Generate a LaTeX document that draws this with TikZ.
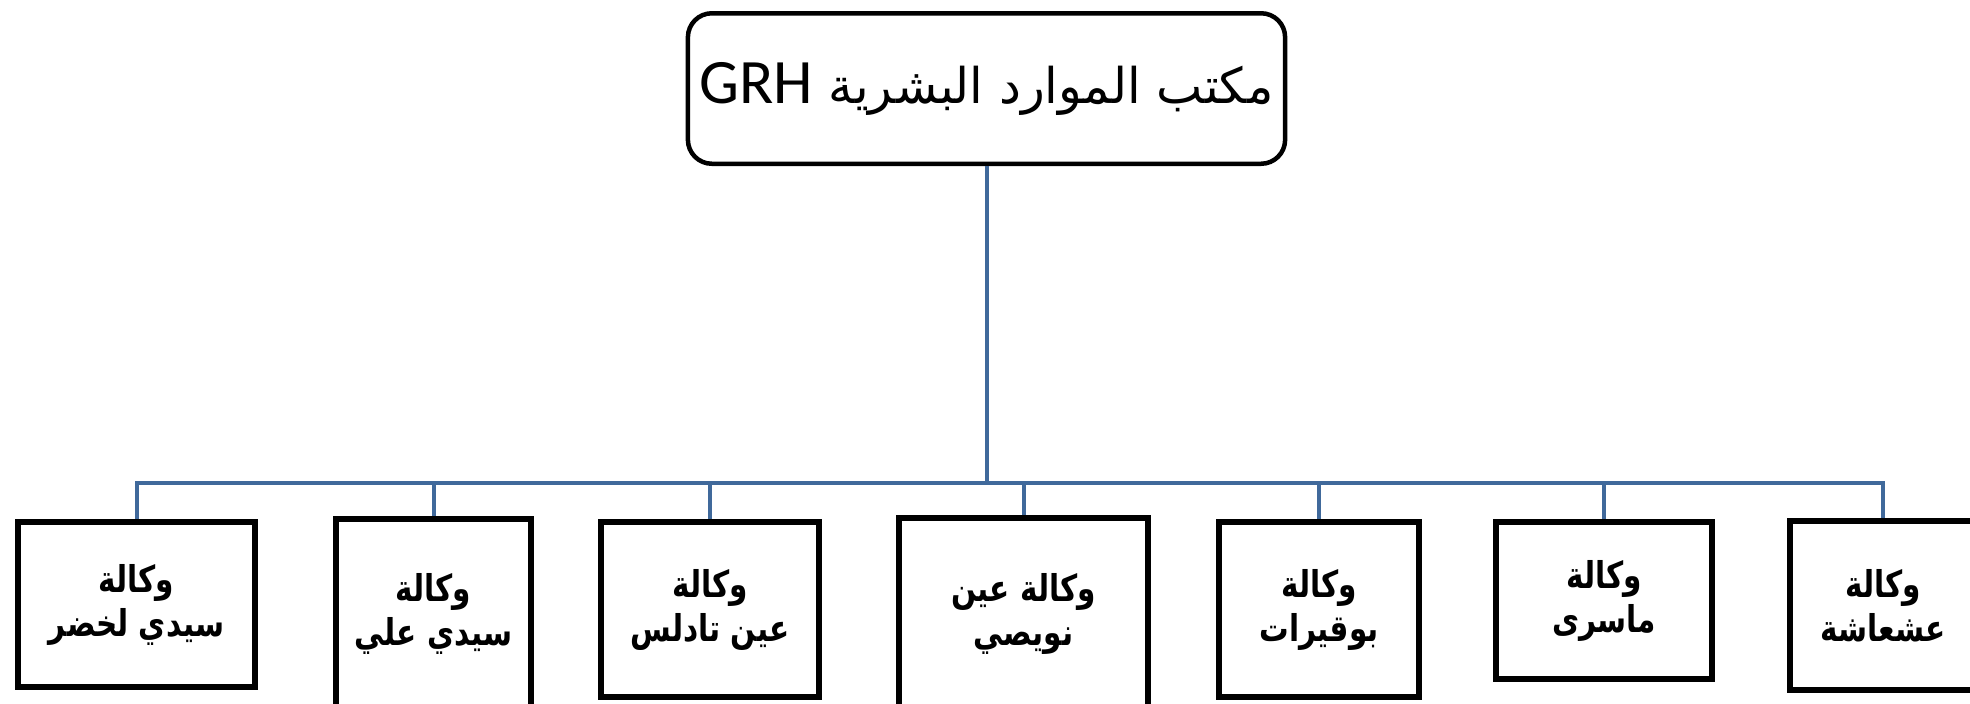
\documentclass[tikz,border=0pt]{standalone}
\usepackage{fontspec}
\usetikzlibrary{positioning}
\newfontfamily\arabicfont[Script=Arabic]{DejaVu Sans}
\newfontfamily\agencyfont[Script=Arabic, FakeStretch=0.8]{DejaVu Sans}
\newfontfamily\latinfont{Carlito}
\TeXXeTstate=1
\definecolor{linkblue}{RGB}{64,105,155}

\begin{document}
\begin{tikzpicture}[
  node distance=0.7cm,
  grhbox/.style={rectangle, draw, rounded corners=0.24cm, line width=0.045cm, align=center, font=\arabicfont\fontsize{14}{18}\selectfont},
  agency/.style={rectangle, draw, line width=0.06cm, inner xsep=1pt, align=center, font=\agencyfont\bfseries\fontsize{10.5}{12.5}\selectfont},
  link/.style={draw=linkblue, line width=0.04cm}
]
  \useasboundingbox (0,0) rectangle (19.70,-7.03);
  % Top: HR office
  \node[grhbox, minimum width=5.885cm, minimum height=1.505cm] (grh) at (9.865,-0.885)
    {\beginR مكتب الموارد البشرية \beginL{\latinfont\fontsize{18}{18}\selectfont GRH}\endL\endR};
  % Agencies
  \node[agency, below=3.53cm of grh, xshift=-8.5cm, minimum width=2.37cm, minimum height=1.65cm] (c1)
    {\beginR وكالة\endR\\\beginR سيدي لخضر\endR};
  \node[agency, right=0.75cm of c1.north east, anchor=north west, yshift=0.03cm, minimum width=1.95cm, minimum height=1.9cm] (c2)
    {\beginR وكالة\endR\\\beginR سيدي علي\endR};
  \node[agency, right=0.64cm of c2.north east, anchor=north west, yshift=-0.03cm, minimum width=2.18cm, minimum height=1.75cm] (c3)
    {\beginR وكالة\endR\\\beginR عين تادلس\endR};
  \node[agency, right=0.74cm of c3.north east, anchor=north west, yshift=0.04cm, minimum width=2.49cm, minimum height=1.91cm] (c4)
    {\beginR وكالة عين\endR\\\beginR نويصي\endR};
  \node[agency, right=0.65cm of c4.north east, anchor=north west, yshift=-0.04cm, minimum width=2cm, minimum height=1.75cm] (c5)
    {\beginR وكالة\endR\\\beginR بوقيرات\endR};
  \node[agency, right=0.71cm of c5.north east, anchor=north west, minimum width=2.16cm, minimum height=1.57cm] (c6)
    {\beginR وكالة\endR\\\beginR ماسرى\endR};
  \node[agency, right=0.72cm of c6.north east, anchor=north west, yshift=0.01cm, minimum width=1.86cm, minimum height=1.69cm] (c7)
    {\beginR وكالة\endR\\\beginR عشعاشة\endR};
  % Connectors
  \coordinate[below=3.17cm of grh.south] (hub);
  \draw[link] (grh.south) -- (hub);
  \foreach \c in {c1,c2,c3,c4,c5,c6,c7}
    \draw[link] (hub) -| (\c.north);
\end{tikzpicture}
\end{document}
